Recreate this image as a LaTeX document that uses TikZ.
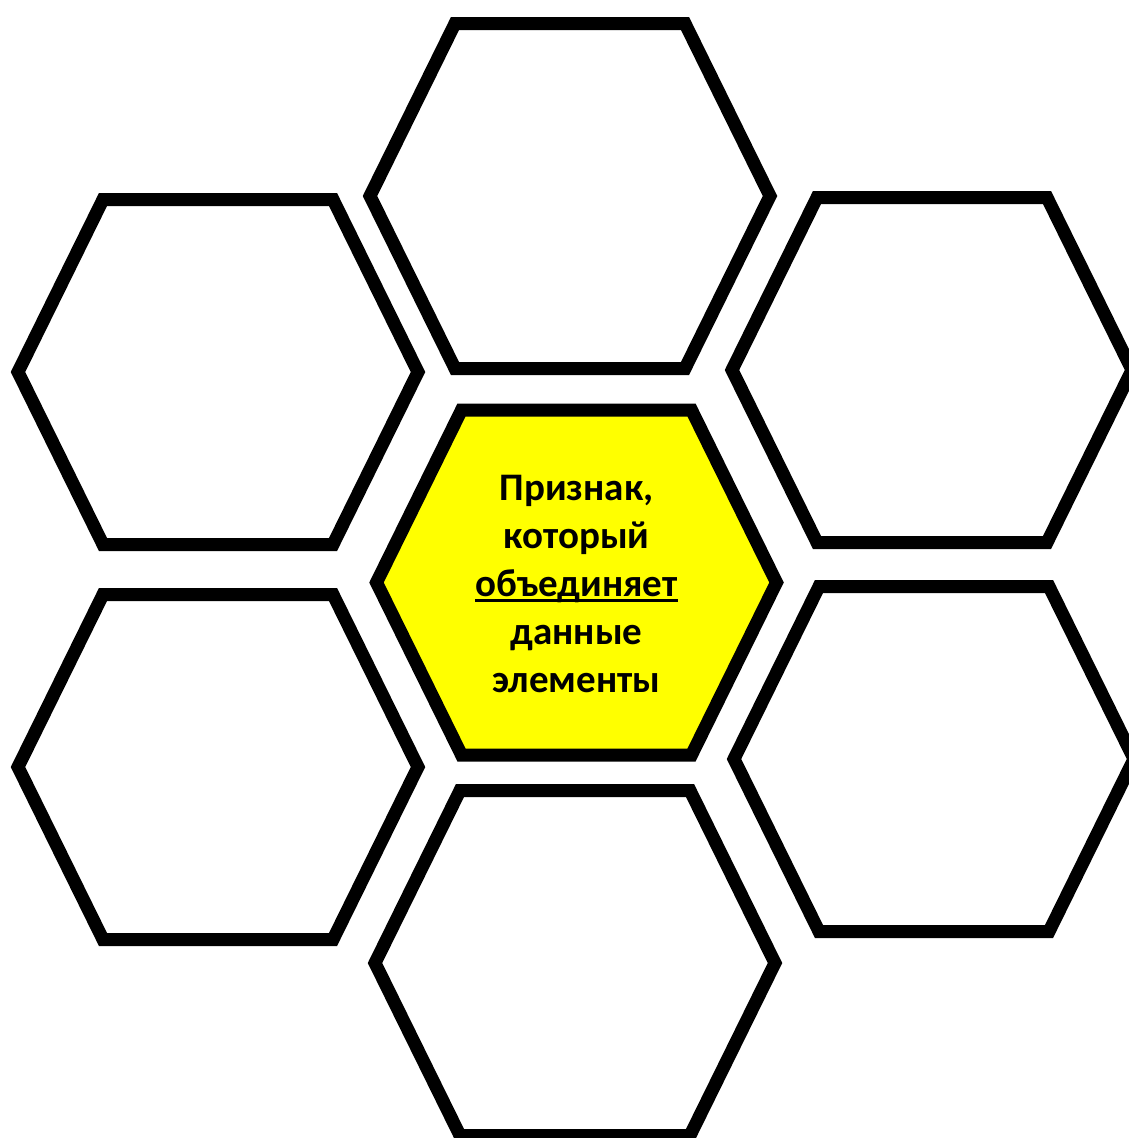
\documentclass[tikz,border=0pt]{standalone}
\usepackage{fontspec}
\setmainfont{Carlito}
\usepackage{tikz}
\usetikzlibrary{positioning}
\definecolor{coreyellow}{RGB}{255,255,0}
\newcommand{\thickul}[1]{\setbox0\hbox{#1}\rlap{\rule[-5pt]{\wd0}{2.6pt}}\box0}

\begin{document}
\begin{tikzpicture}[
  x=1pt, y=-1pt,
  hexcell/.style={draw=black, line width=13pt, line join=miter},
  core/.style={hexcell, fill=coreyellow},
  corelabel/.style={font=\bfseries\fontsize{39}{48}\selectfont, align=center, inner sep=0pt}
]
\useasboundingbox (0,0) rectangle (1129,1138);
% outer cells
\foreach \cx/\cy in {570/196, 218/372, 932/370, 218/767, 934/759, 575/963}
  \draw[hexcell] (\cx-200,\cy) -- ++(85,-172.5) -- ++(230,0) -- ++(85,172.5)
    -- ++(-85,172.5) -- ++(-230,0) -- cycle;
% centre cell
\draw[core] (376.5,582.5) -- ++(85,-172.5) -- ++(230,0) -- ++(85,172.5)
  -- ++(-85,172.5) -- ++(-230,0) -- cycle;
\node[corelabel] (feature) at (576.5,584) {Признак,\\который\\\thickul{объединяет}\\данные\\элементы};
\end{tikzpicture}
\end{document}
